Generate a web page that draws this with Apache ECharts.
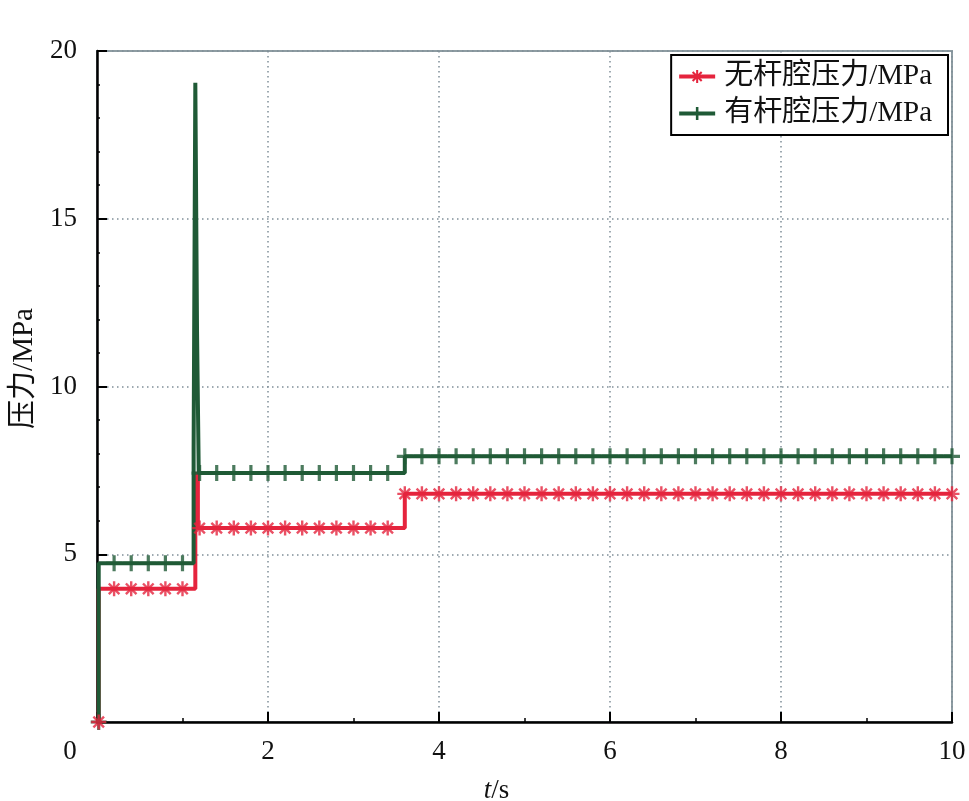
<!DOCTYPE html>
<html>
<head>
<meta charset="utf-8">
<script src="https://cdn.jsdelivr.net/npm/echarts@6/dist/echarts.min.js"></script>
<style>html,body{margin:0;padding:0;background:#fff;}#c{width:969px;height:801px;}</style>
</head>
<body>
<div id="c"></div>
<script>
// ---- data ----
var seriesNames = ['无杆腔压力/MPa', '有杆腔压力/MPa'];
// step-line breakpoints (time in s, pressure in MPa)
var redStepT = [0.02, 0.02, 1.15, 1.15, 1.18, 1.18, 3.60, 3.60, 10.0];
var redStepP = [0.00, 3.97, 3.97, 7.40, 7.40, 5.78, 5.78, 6.80, 6.80];
var greenStepT = [0.02, 0.02, 1.13, 1.13, 1.15, 1.15, 1.17, 1.17, 1.19, 1.19, 3.60, 3.60, 10.0];
var greenStepP = [0.00, 4.73, 4.73, 8.15, 8.15, 19.05, 19.05, 11.62, 11.62, 7.42, 7.42, 7.92, 7.92];
// marker positions
var markerT = [0.02, 0.2, 0.4, 0.6, 0.8, 1.0, 1.2, 1.4, 1.6, 1.8, 2.0, 2.2, 2.4, 2.6, 2.8, 3.0, 3.2, 3.4,
  3.6, 3.8, 4.0, 4.2, 4.4, 4.6, 4.8, 5.0, 5.2, 5.4, 5.6, 5.8, 6.0, 6.2, 6.4, 6.6, 6.8, 7.0, 7.2, 7.4,
  7.6, 7.8, 8.0, 8.2, 8.4, 8.6, 8.8, 9.0, 9.2, 9.4, 9.6, 9.8, 10.0];
var redMarkerP = [0, 3.97, 3.97, 3.97, 3.97, 3.97,
  5.78, 5.78, 5.78, 5.78, 5.78, 5.78, 5.78, 5.78, 5.78, 5.78, 5.78, 5.78,
  6.8, 6.8, 6.8, 6.8, 6.8, 6.8, 6.8, 6.8, 6.8, 6.8, 6.8, 6.8, 6.8, 6.8, 6.8, 6.8, 6.8, 6.8, 6.8,
  6.8, 6.8, 6.8, 6.8, 6.8, 6.8, 6.8, 6.8, 6.8, 6.8, 6.8, 6.8, 6.8, 6.8];
var greenMarkerP = [0, 4.73, 4.73, 4.73, 4.73, 4.73,
  7.42, 7.42, 7.42, 7.42, 7.42, 7.42, 7.42, 7.42, 7.42, 7.42, 7.42, 7.42,
  7.92, 7.92, 7.92, 7.92, 7.92, 7.92, 7.92, 7.92, 7.92, 7.92, 7.92, 7.92, 7.92, 7.92, 7.92, 7.92, 7.92, 7.92, 7.92,
  7.92, 7.92, 7.92, 7.92, 7.92, 7.92, 7.92, 7.92, 7.92, 7.92, 7.92, 7.92, 7.92, 7.92];
var xTicks = [0, 2, 4, 6, 8, 10];
var yTicks = [5, 10, 15, 20];

// ---- styling helpers ----
function zip(a, b) { return a.map(function (v, i) { return [v, b[i]]; }); }
function bar(angleDeg, L, w) {
  var a = angleDeg * Math.PI / 180, c = Math.cos(a), s = Math.sin(a);
  var pts = [[-L, -w], [L, -w], [L, w], [-L, w]].map(function (p) {
    return (p[0] * c - p[1] * s).toFixed(3) + ',' + (p[0] * s + p[1] * c).toFixed(3);
  });
  return 'M' + pts[0] + 'L' + pts[1] + 'L' + pts[2] + 'L' + pts[3] + 'Z';
}
var starPath = 'path://' + [0, 45, 90, 135].map(function (d) { return bar(d, 10, 1.6); }).join('');
var plusPath = 'path://' + [0, 90].map(function (d) { return bar(d, 10, 2.0); }).join('');

var RED = '#e5243d', GREEN = '#1f5a36';
var FONT = '"Liberation Serif", "Times New Roman", "Noto Sans CJK SC", serif';

var chart = echarts.init(document.getElementById('c'));
chart.setOption({
  animation: false,
  backgroundColor: '#fff',
  grid: { left: 97, right: 17, top: 51, bottom: 79, outerBoundsMode: 'none', containLabel: false,
    show: true, borderColor: '#8e9ca2', borderWidth: 2, backgroundColor: 'transparent' },
  legend: {
    data: seriesNames,
    orient: 'vertical', right: 21, top: 55,
    backgroundColor: '#fff', borderColor: '#000', borderWidth: 2,
    padding: [7, 16, 7, 6], itemGap: 8, itemWidth: 36, itemHeight: 16,
    lineStyle: { width: 4 },
    textStyle: { fontFamily: FONT, fontSize: 29, color: '#111', padding: [0, 0, 0, 4] }
  },
  xAxis: {
    type: 'value', min: 0, max: 10, interval: 2,
    name: '{i|t}{n|/s}', nameLocation: 'middle', nameGap: 55,
    nameTextStyle: {
      padding: [0, 56, 0, 0],
      rich: {
        i: { fontFamily: FONT, fontSize: 27, fontStyle: 'italic', color: '#111' },
        n: { fontFamily: FONT, fontSize: 27, color: '#111' }
      }
    },
    axisLine: { lineStyle: { color: '#000', width: 2.5 } },
    axisTick: { inside: true, length: 10, lineStyle: { color: '#000', width: 2 } },
    minorTick: { show: true, splitNumber: 2, length: 4, lineStyle: { color: '#000', width: 1.5 } },
    axisLabel: {
      margin: 16, fontFamily: FONT, fontSize: 27, color: '#111',
      customValues: xTicks,
      formatter: function (v) { return v === 0 ? '{z|0}' : String(v); },
      rich: { z: { fontFamily: FONT, fontSize: 27, color: '#111', padding: [0, 54, 0, 0] } }
    },
    splitLine: { show: true, lineStyle: { color: '#7f8e98', width: 1.5, type: [1.5, 3.5] } }
  },
  yAxis: {
    type: 'value', min: 0, max: 20, interval: 5,
    name: '压力/MPa', nameLocation: 'middle', nameGap: 57,
    nameTextStyle: { fontFamily: FONT, fontSize: 29, color: '#111', padding: [0, 0, 0, 36] },
    axisLine: { show: true, lineStyle: { color: '#000', width: 2.5 } },
    axisTick: { show: true, inside: true, length: 10, lineStyle: { color: '#000', width: 2 } },
    minorTick: { show: true, splitNumber: 5, length: 3, lineStyle: { color: '#000', width: 1.5 } },
    axisLabel: {
      margin: 20, fontFamily: FONT, fontSize: 27, color: '#111',
      customValues: yTicks,
      formatter: function (v) { return v === 0 ? '' : String(v); }
    },
    splitLine: { show: true, lineStyle: { color: '#7f8e98', width: 1.5, type: [1.5, 3.5] } }
  },
  series: [
    {
      name: seriesNames[1], type: 'line', data: zip(greenStepT, greenStepP),
      symbol: plusPath, symbolSize: 15, showSymbol: false, color: GREEN,
      lineStyle: { color: GREEN, width: 4 }, z: 3
    },
    {
      name: seriesNames[0], type: 'line', data: zip(redStepT, redStepP),
      symbol: starPath, symbolSize: 15, showSymbol: false, color: RED,
      lineStyle: { color: RED, width: 4 }, z: 2
    },
    {
      name: seriesNames[1], type: 'scatter', data: zip(markerT, greenMarkerP),
      symbol: plusPath, symbolSize: 16, itemStyle: { color: GREEN }, z: 4, clip: false
    },
    {
      name: seriesNames[0], type: 'scatter', data: zip(markerT, redMarkerP),
      symbol: starPath, symbolSize: 15, itemStyle: { color: RED }, z: 5, clip: false
    }
  ]
});
</script>
</body>
</html>
